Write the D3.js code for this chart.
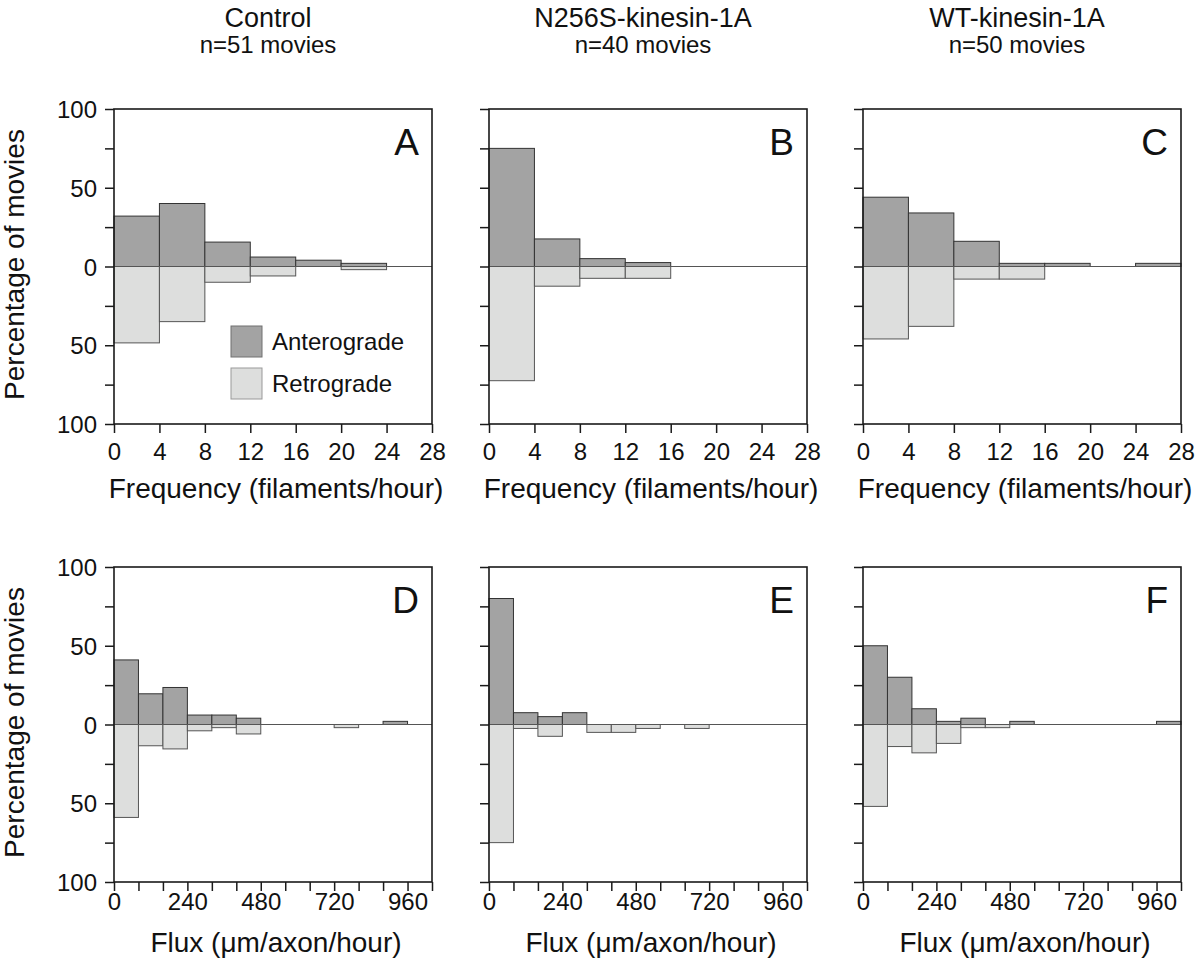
<!DOCTYPE html>
<html><head><meta charset="utf-8">
<script src="https://cdn.jsdelivr.net/npm/d3@7"></script>
<style>
body{margin:0;background:#fff}
text{font-family:"Liberation Sans",Arial,Helvetica,sans-serif;fill:#111}
</style>
</head><body>
<svg id="chart" width="1200" height="970"></svg>
<script>
// ---------- DATA ----------
const groups = ["Control", "N256S-kinesin-1A", "WT-kinesin-1A"];
const movieCounts = [51, 40, 50];
const panelLetters = [["A", "B", "C"], ["D", "E", "F"]];

// Frequency histograms (bin width 4 filaments/hour), % of movies
const freqBinStarts = [0, 4, 8, 12, 16, 20, 24];
const freqAntero = [
  [32, 40, 15.5, 6, 4, 2, 0],
  [75, 17.5, 5, 2.5, 0, 0, 0],
  [44, 34, 16, 2, 2, 0, 2]
];
const freqRetro = [
  [48.5, 35, 10, 6, 0, 2, 0],
  [72.5, 12.5, 7.5, 7.5, 0, 0, 0],
  [46, 38, 8, 8, 0, 0, 0]
];

// Flux histograms (bin width 80 µm/axon/hour), % of movies
const fluxBinStarts = [0, 80, 160, 240, 320, 400, 480, 560, 640, 720, 800, 880, 960];
const fluxAntero = [
  [41, 19.5, 23.5, 6, 6, 4, 0, 0, 0, 0, 0, 2, 0],
  [80, 7.5, 5, 7.5, 0, 0, 0, 0, 0, 0, 0, 0, 0],
  [50, 30, 10, 2, 4, 0, 2, 0, 0, 0, 0, 0, 2]
];
const fluxRetro = [
  [59, 13.5, 15.5, 4, 2, 6, 0, 0, 0, 2, 0, 0, 0],
  [75, 2.5, 7.5, 0, 5, 5, 2.5, 0, 2.5, 0, 0, 0, 0],
  [52, 14, 18, 12, 2, 2, 0, 0, 0, 0, 0, 0, 0]
];

const freqTicks = [0, 4, 8, 12, 16, 20, 24, 28];
const fluxTicks = [0, 80, 160, 240, 320, 400, 480, 560, 640, 720, 800, 880, 960, 1040];
const fluxTickLabels = [0, 240, 480, 720, 960];
const yTicks = [-100, -75, -50, -25, 0, 25, 50, 75, 100];
const yTickLabels = [-100, -50, 0, 50, 100];
const legendLabels = ["Anterograde", "Retrograde"];
const xTitles = ["Frequency (filaments/hour)", "Flux (\u03BCm/axon/hour)"];
const yTitle = "Percentage of movies";

// ---------- LAYOUT ----------
const colX = [114, 489, 863];
const rowY = [109, 567];
const pw = 318, ph = 315;
const tickLabelOffset = [19, 11];
const xTitleOffset = [74, 70];
const darkFill = "#a3a3a3", lightFill = "#dddedd";

const svg = d3.select("#chart");

const rows = [
  {bins: freqBinStarts, w: 4, ante: freqAntero, retro: freqRetro, ticks: freqTicks, labels: freqTicks, max: 28},
  {bins: fluxBinStarts, w: 80, ante: fluxAntero, retro: fluxRetro, ticks: fluxTicks, labels: fluxTickLabels, max: 1040}
];

// column titles
groups.forEach((g, i) => {
  const cx = colX[i] + pw / 2 - 5;
  svg.append("text").attr("x", cx).attr("y", 27).attr("text-anchor", "middle")
    .style("font-size", "27px").text(g);
  svg.append("text").attr("x", cx).attr("y", 53).attr("text-anchor", "middle")
    .style("font-size", "24px").text("n=" + movieCounts[i] + " movies");
});

rows.forEach((row, r) => {
  const top = rowY[r];
  const y = d3.scaleLinear().domain([-100, 100]).range([top + ph, top]);
  // y title
  svg.append("text")
    .attr("transform", `translate(24,${top + ph / 2 - 2}) rotate(-90)`)
    .attr("text-anchor", "middle").style("font-size", "28px").text(yTitle);

  groups.forEach((g, c) => {
    const left = colX[c];
    const x = d3.scaleLinear().domain([0, row.max]).range([left, left + pw]);
    const gp = svg.append("g");

    // retrograde bars (downward)
    gp.selectAll("rect.retro").data(row.bins.map((b, i) => ({b, v: row.retro[c][i]})).filter(d => d.v > 0))
      .enter().append("rect").attr("class", "retro")
      .attr("x", d => x(d.b)).attr("width", d => x(d.b + row.w) - x(d.b))
      .attr("y", y(0)).attr("height", d => y(-d.v) - y(0))
      .attr("fill", lightFill).attr("stroke", "#555").attr("stroke-width", 1);
    // anterograde bars (upward)
    gp.selectAll("rect.ante").data(row.bins.map((b, i) => ({b, v: row.ante[c][i]})).filter(d => d.v > 0))
      .enter().append("rect").attr("class", "ante")
      .attr("x", d => x(d.b)).attr("width", d => x(d.b + row.w) - x(d.b))
      .attr("y", d => y(d.v)).attr("height", d => y(0) - y(d.v))
      .attr("fill", darkFill).attr("stroke", "#333").attr("stroke-width", 1);

    // zero line
    gp.append("line").attr("x1", x(0)).attr("x2", x(row.max))
      .attr("y1", y(0)).attr("y2", y(0)).attr("stroke", "#555").attr("stroke-width", 1);

    // frame
    gp.append("rect").attr("x", left).attr("y", top).attr("width", pw).attr("height", ph)
      .attr("fill", "none").attr("stroke", "#1a1a1a").attr("stroke-width", 1.6);

    // y axis
    const ya = d3.axisLeft(y).tickValues(yTicks).tickSize(9).tickSizeOuter(0)
      .tickFormat(v => (c === 0 && yTickLabels.includes(v)) ? String(Math.abs(v)) : "");
    const yg = gp.append("g").attr("transform", `translate(${left},0)`).call(ya);
    yg.select(".domain").remove();
    yg.selectAll(".tick line").attr("stroke", "#1a1a1a").attr("stroke-width", 1.5);
    yg.selectAll(".tick text").style("font-size", "24px").attr("x", -17).attr("dy", "0.36em").attr("fill", "#111");

    // x axis
    const xa = d3.axisBottom(x).tickValues(row.ticks).tickSize(9).tickSizeOuter(0)
      .tickFormat(v => row.labels.includes(v) ? String(v) : "");
    const xg = gp.append("g").attr("transform", `translate(0,${top + ph})`).call(xa);
    xg.select(".domain").remove();
    xg.selectAll(".tick line").attr("stroke", "#1a1a1a").attr("stroke-width", 1.5);
    xg.selectAll(".tick text").style("font-size", "24px").attr("y", tickLabelOffset[r]).attr("dy", "0.71em").attr("fill", "#111");

    // x title
    gp.append("text").attr("x", left + pw / 2 + 3).attr("y", top + ph + xTitleOffset[r])
      .attr("text-anchor", "middle").style("font-size", "28px").text(xTitles[r]);

    // panel letter
    gp.append("text").attr("x", left + pw - 13).attr("y", top + 46)
      .attr("text-anchor", "end").style("font-size", "37px").text(panelLetters[r][c]);
  });
});

// legend in panel A
const legend = svg.append("g");
const legFills = [darkFill, lightFill];
const legStroke = ["#707070", "#999"];
legendLabels.forEach((t, i) => {
  const ly = 326 + i * 42;
  legend.append("rect").attr("x", 231).attr("y", ly).attr("width", 31).attr("height", 31)
    .attr("fill", legFills[i]).attr("stroke", legStroke[i]).attr("stroke-width", 1);
  legend.append("text").attr("x", 272).attr("y", ly + 24).style("font-size", "24px").text(t);
});
</script>
</body></html>
